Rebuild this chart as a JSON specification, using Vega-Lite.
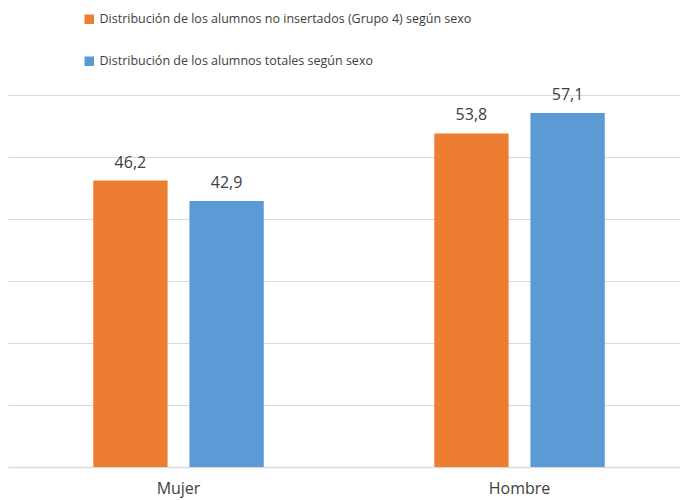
{
  "$schema": "https://vega.github.io/schema/vega-lite/v6.json",
  "width": 672,
  "height": 372,
  "autosize": {"type": "none"},
  "padding": {"left": 8, "top": 95, "right": 0, "bottom": 33},
  "background": "white",
  "config": {
    "view": {"stroke": null},
    "font": "Open Sans",
    "locale": {"number": {"decimal": ",", "thousands": ".", "grouping": [3], "currency": ["", " €"]}}
  },
  "data": {
    "values": [
      {"sexo": "Mujer", "serie": "Distribución de los alumnos no insertados (Grupo 4) según sexo", "valor": 46.2},
      {"sexo": "Mujer", "serie": "Distribución de los alumnos totales según sexo", "valor": 42.9},
      {"sexo": "Hombre", "serie": "Distribución de los alumnos no insertados (Grupo 4) según sexo", "valor": 53.8},
      {"sexo": "Hombre", "serie": "Distribución de los alumnos totales según sexo", "valor": 57.1}
    ]
  },
  "encoding": {
    "x": {
      "field": "sexo", "type": "nominal", "sort": ["Mujer", "Hombre"],
      "scale": {"paddingInner": 0.5, "paddingOuter": 0.25, "range": [0, 682]},
      "axis": {"title": null, "labelAngle": 0, "ticks": false, "domainColor": "#d9d9d9", "domainWidth": 1.5, "labelFontSize": 16, "labelColor": "#404040", "labelPadding": 13}
    },
    "xOffset": {"field": "serie", "type": "nominal", "scale": {"paddingInner": 0.227, "paddingOuter": 0}},
    "y": {
      "field": "valor", "type": "quantitative",
      "scale": {"domain": [0, 60]},
      "axis": {"title": null, "labels": false, "ticks": false, "domain": false, "tickCount": 6, "gridColor": "#d9d9d9", "gridWidth": 1}
    }
  },
  "layer": [
    {
      "mark": {"type": "bar"},
      "encoding": {
        "color": {
          "field": "serie", "type": "nominal",
          "scale": {"range": ["#ED7D31", "#5B9BD5"]},
          "legend": {
            "title": null, "orient": "none", "legendX": 75, "legendY": -82,
            "direction": "vertical", "symbolType": "square", "symbolSize": 90,
            "labelFontSize": 12.5, "labelColor": "#404040", "rowPadding": 29, "symbolOffset": 0, "labelOffset": 4,
            "labelLimit": 500
          }
        }
      }
    },
    {
      "mark": {"type": "text", "baseline": "bottom", "dy": -10, "fontSize": 16, "color": "#404040"},
      "encoding": {
        "text": {"field": "valor", "type": "quantitative", "format": ".1f"}
      }
    }
  ]
}
